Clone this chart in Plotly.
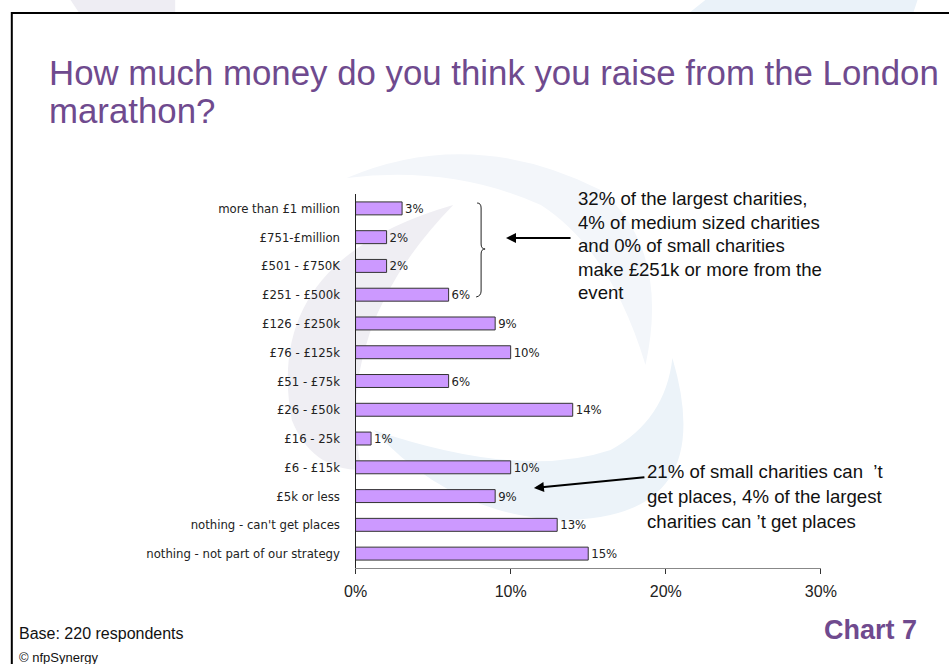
import plotly.graph_objects as go

categories = [
    "more than £1 million", "£751-£million", "£501 - £750K", "£251 - £500k",
    "£126 - £250k", "£76 - £125k", "£51 - £75k", "£26 - £50k", "£16 - 25k",
    "£6 - £15k", "£5k or less", "nothing - can't get places",
    "nothing - not part of our strategy",
]
values = [3, 2, 2, 6, 9, 10, 6, 14, 1, 10, 9, 13, 15]
x_tick_vals = [0, 10, 20, 30]
x_tick_text = ["0%", "10%", "20%", "30%"]

title_lines = ["How much money do you think you raise from the London", "marathon?"]
note1_lines = ["32% of the largest charities,", "4% of medium sized charities",
               "and 0% of small charities", "make \u00a3251k or more from the", "event"]
note2_lines = ["21% of small charities can  \u2019t", "get places, 4% of the largest",
               "charities can \u2019t get places"]

W, H = 949, 664
PURPLE = "#6F4A8E"
ARIAL = "Liberation Sans, Arial, sans-serif"
TAHOMA = "DejaVu Sans Condensed, DejaVu Sans, sans-serif"

# screen-x -> paper fraction (compensates the page's horizontal layout offset)
OX, KX = 9.2, 0.974


def px(x):
    return (x - OX) / KX / W


def py(y):
    return 1 - y / H


def poly_path(points, close=True):
    s = "M " + " L ".join("%f %f" % (px(a), py(b)) for a, b in points)
    return s + (" Z" if close else "")


def quad_path(start, segs, close=True):
    s = "M %f %f" % (px(start[0]), py(start[1]))
    for (cx, cy), (ex, ey) in segs:
        s += " Q %f %f %f %f" % (px(cx), py(cy), px(ex), py(ey))
    return s + (" Z" if close else "")


fig = go.Figure()
fig.add_trace(go.Bar(
    y=categories, x=values, orientation="h",
    marker=dict(color="#CC99FF", line=dict(color="#333333", width=1)),
    text=[f"{v}%" for v in values], textposition="outside",
    constraintext="none",
    textfont=dict(family=TAHOMA, size=13, color="#222222"),
    cliponaxis=False, hoverinfo="skip",
))

shapes = []
# faint watermark background (swooshes)
shapes.append(dict(type="path", xref="paper", yref="paper", layer="below",
                   path=quad_path((345, 178), [((470, 125), (600, 190)),
                                               ((670, 250), (645, 365)),
                                               ((610, 250), (540, 205)),
                                               ((450, 165), (345, 178))]),
                   fillcolor="#F3F6FA", line=dict(width=0)))
shapes.append(dict(type="path", xref="paper", yref="paper", layer="below",
                   path=quad_path((452, 205), [((260, 260), (290, 420)),
                                               ((310, 470), (360, 470)),
                                               ((330, 330), (452, 205))]),
                   fillcolor="#EFEEF3", line=dict(width=0)))
shapes.append(dict(type="path", xref="paper", yref="paper", layer="below",
                   path=quad_path((672, 358), [((720, 520), (560, 520)),
                                               ((450, 515), (372, 430)),
                                               ((520, 480), (610, 450)),
                                               ((665, 420), (672, 358))]),
                   fillcolor="#ECF3F9", line=dict(width=0)))
# top strip watermark
shapes.append(dict(type="path", xref="paper", yref="paper", layer="below",
                   path=poly_path([(68, 0), (173, 0), (173, 12), (76, 12)]),
                   fillcolor="#EEEDF3", line=dict(width=0)))
shapes.append(dict(type="path", xref="paper", yref="paper", layer="below",
                   path=poly_path([(705, 0), (918, 0), (914, 12), (690, 12)]),
                   fillcolor="#EAF2F9", line=dict(width=0)))
# slide border (left, top; right side runs off the page)
shapes.append(dict(type="path", xref="paper", yref="paper",
                   path=poly_path([(9, 670), (9, 13), (1000, 13)], close=False),
                   line=dict(color="#000000", width=2)))
# curly brace
bx, bm = 480, 484
shapes.append(dict(type="path", xref="paper", yref="paper",
                   path=quad_path((476, 203), [((bx, 203), (bx, 208))], close=False)
                   + " L %f %f" % (px(bx), py(244))
                   + " Q %f %f %f %f" % (px(bx), py(249), px(bm), py(249))
                   + " Q %f %f %f %f" % (px(bx), py(249), px(bx), py(254))
                   + " L %f %f" % (px(bx), py(291))
                   + " Q %f %f %f %f" % (px(bx), py(296), px(475), py(297)),
                   line=dict(color="#222222", width=1)))

annotations = []
for i, t in enumerate(title_lines):
    annotations.append(dict(x=px(44), y=py(72 + 38 * i), xref="paper", yref="paper",
                            xanchor="left", yanchor="middle", showarrow=False, text=t,
                            font=dict(family=ARIAL, size=34.8, color=PURPLE)))
for i, t in enumerate(note1_lines):
    annotations.append(dict(x=px(575), y=py(199 + 23.5 * i), xref="paper", yref="paper",
                            xanchor="left", yanchor="middle", showarrow=False, text=t,
                            font=dict(family=ARIAL, size=18.6, color="#111111")))
for i, t in enumerate(note2_lines):
    annotations.append(dict(x=px(644), y=py(471 + 25 * i), xref="paper", yref="paper",
                            xanchor="left", yanchor="middle", showarrow=False, text=t,
                            font=dict(family=ARIAL, size=18.6, color="#111111")))


def arrow(hx, hy, tx, ty):
    return dict(x=px(hx), y=py(hy), ax=tx - hx, ay=ty - hy,
                xref="paper", yref="paper", axref="pixel", ayref="pixel",
                showarrow=True, arrowhead=2, arrowsize=1, arrowwidth=2,
                arrowcolor="#000000", text="")


annotations.append(arrow(505, 238, 571, 238))
annotations.append(arrow(533, 488, 645, 477))
# footer
annotations.append(dict(x=px(14), y=py(633), xref="paper", yref="paper",
                        xanchor="left", yanchor="middle", showarrow=False,
                        text="Base: 220 respondents",
                        font=dict(family=ARIAL, size=16, color="#111111")))
annotations.append(dict(x=px(14), y=py(657), xref="paper", yref="paper",
                        xanchor="left", yanchor="middle", showarrow=False,
                        text="\u00a9 nfpSynergy",
                        font=dict(family=ARIAL, size=13, color="#111111")))
annotations.append(dict(x=px(919), y=py(630), xref="paper", yref="paper",
                        xanchor="right", yanchor="middle", showarrow=False,
                        text="<b>Chart 7</b>",
                        font=dict(family=ARIAL, size=27, color=PURPLE)))

fig.update_layout(
    width=W, height=H, margin=dict(l=0, r=0, t=0, b=0),
    paper_bgcolor="#FFFFFF", plot_bgcolor="rgba(0,0,0,0)",
    showlegend=False, bargap=0.55,
    shapes=shapes, annotations=annotations,
    xaxis=dict(domain=[px(354), px(821)], range=[0, 30], tickvals=x_tick_vals,
               ticktext=x_tick_text, showgrid=False, zeroline=False,
               showline=True, linecolor="#888888", linewidth=1,
               ticks="outside", ticklen=5, tickcolor="#333333",
               ticklabelstandoff=4,
               tickfont=dict(family=ARIAL, size=16, color="#222222")),
    yaxis=dict(domain=[py(568), py(194)], autorange="reversed",
               categoryorder="array", categoryarray=categories,
               showgrid=False, zeroline=False, showline=True,
               linecolor="#222222", linewidth=1, ticks="",
               ticklabelstandoff=12,
               tickfont=dict(family=TAHOMA, size=13, color="#222222")),
)

fig.write_html("out.html")
